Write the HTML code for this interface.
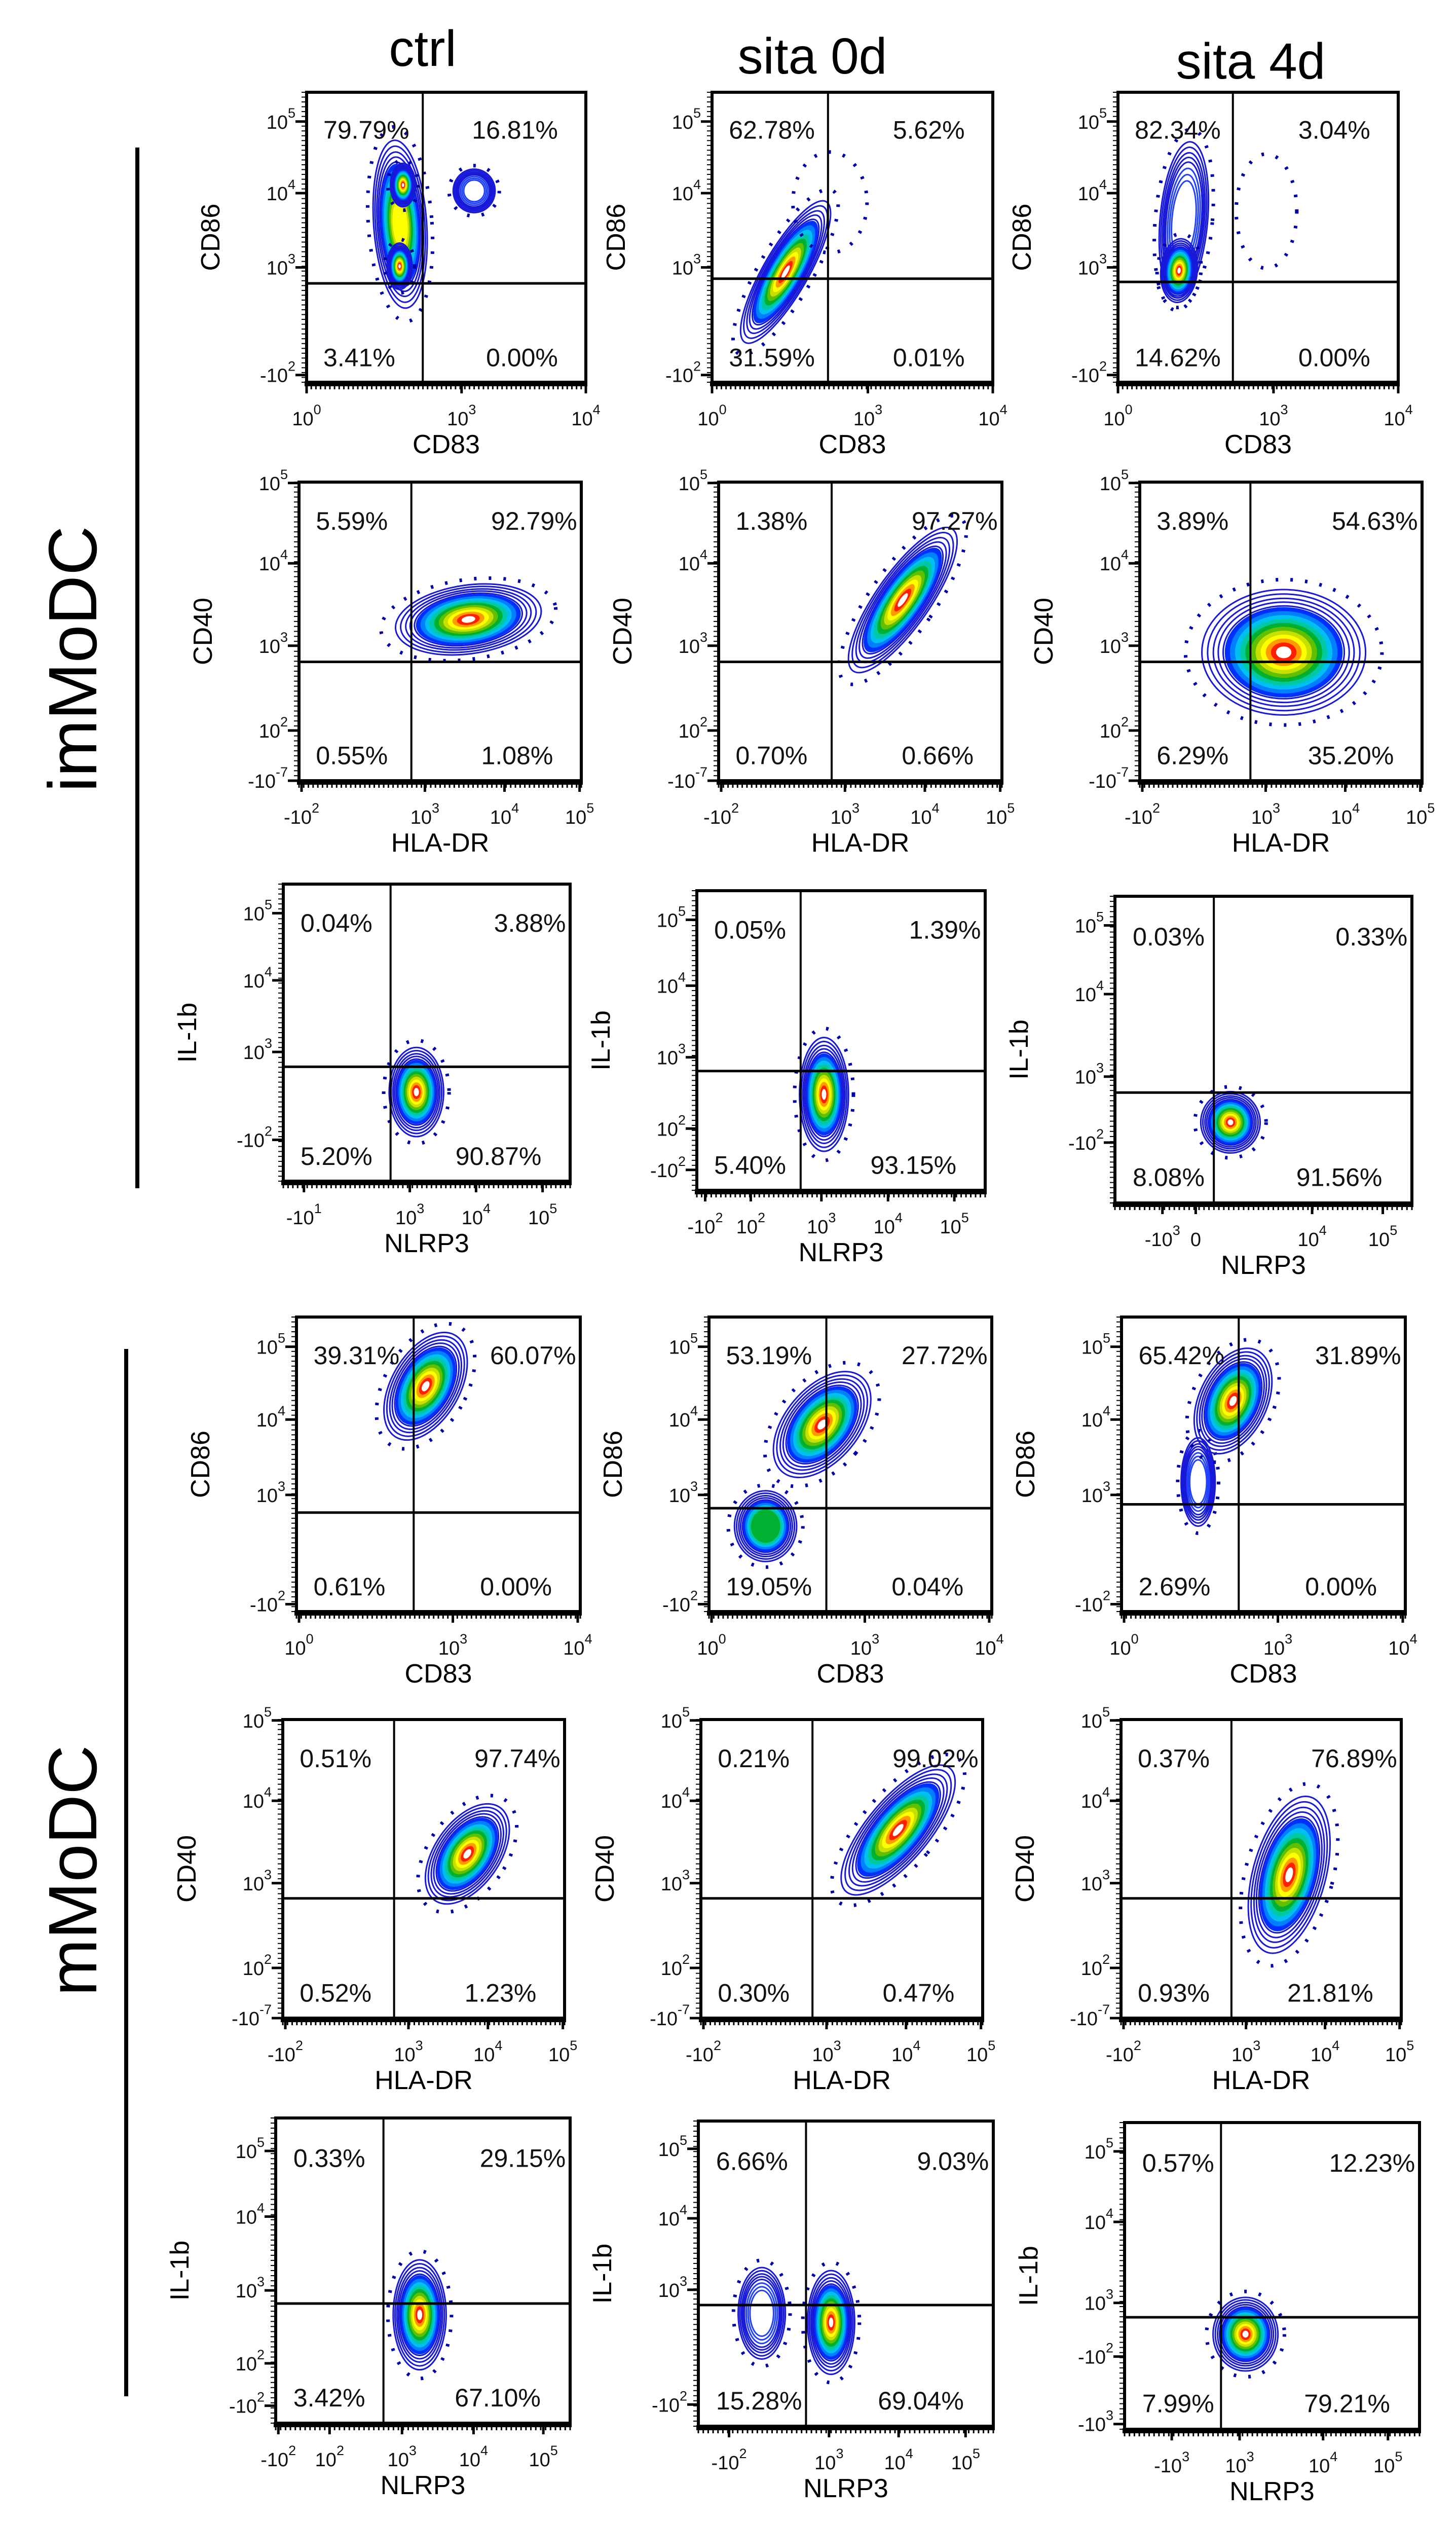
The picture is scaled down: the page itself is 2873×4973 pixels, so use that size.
<!DOCTYPE html>
<html><head><meta charset="utf-8"><style>
html,body{margin:0;padding:0;background:#fff}
svg{display:block;font-family:"Liberation Sans",Arial,sans-serif}
</style></head><body>
<svg id="fig" xmlns="http://www.w3.org/2000/svg" width="2873" height="4973" viewBox="0 0 2873 4973">
<rect x="0" y="0" width="2873" height="4973" fill="#fff"/>
<text x="834" y="130" font-size="100" text-anchor="middle">ctrl</text>
<text x="1603" y="145" font-size="100" text-anchor="middle">sita 0d</text>
<text x="2468" y="155" font-size="100" text-anchor="middle">sita 4d</text>
<line x1="271" y1="291" x2="271" y2="2344" stroke="#000" stroke-width="8"/>
<line x1="249" y1="2661" x2="249" y2="4727" stroke="#000" stroke-width="8"/>
<text x="0" y="0" font-size="135" text-anchor="middle" transform="translate(190,1300) rotate(-90)">imMoDC</text>
<text x="0" y="0" font-size="135" text-anchor="middle" transform="translate(190,3690) rotate(-90)">mMoDC</text>
<g id="panels"></g>
</svg>
<script>
// ---- data ----
const pctUL = ['79.79%','62.78%','82.34%','5.59%','1.38%','3.89%','0.04%','0.05%','0.03%','39.31%','53.19%','65.42%','0.51%','0.21%','0.37%','0.33%','6.66%','0.57%'];
const pctUR = ['16.81%','5.62%','3.04%','92.79%','97.27%','54.63%','3.88%','1.39%','0.33%','60.07%','27.72%','31.89%','97.74%','99.02%','76.89%','29.15%','9.03%','12.23%'];
const pctLL = ['3.41%','31.59%','14.62%','0.55%','0.70%','6.29%','5.20%','5.40%','8.08%','0.61%','19.05%','2.69%','0.52%','0.30%','0.93%','3.42%','15.28%','7.99%'];
const pctLR = ['0.00%','0.01%','0.00%','1.08%','0.66%','35.20%','90.87%','93.15%','91.56%','0.00%','0.04%','0.00%','1.23%','0.47%','21.81%','67.10%','69.04%','79.21%'];
// quadrant gates in channel units (0-1000)
const gateX = [416,413,410,398,399,392,374,360,333,413,415,413,395,396,394,366,365,327];
const gateY = [341,357,346,398,398,398,385,398,360,336,351,364,401,401,401,392,397,365];
// population blobs: [centerX, centerY, spreadX, spreadY, tilt, peakDensity] in channel units
const blobs = [
 [[335,545,95,290,-4,0.75],[345,680,45,75,0,1.0],[333,400,45,80,0,1.0],[600,660,75,75,0,0]],
 [[262,380,80,280,30,1.0],[420,620,110,150,0,-1]],
 [[235,560,85,270,5,0],[218,385,65,110,5,1.0],[530,590,90,170,0,-1]],
 [[600,540,260,115,-8,1.0]],
 [[650,605,95,290,35,1.0]],
 [[510,430,290,210,0,1.0]],
 [[464,300,95,150,0,1.0]],
 [[441,320,85,190,0,1.0]],
 [[389,263,100,100,0,1.0]],
 [[455,765,120,200,30,1.0]],
 [[400,635,130,210,40,1.0],[200,290,110,120,0,0.45]],
 [[270,440,60,150,0,0],[393,715,120,190,25,1.0]],
 [[655,550,115,190,35,1.0]],
 [[700,630,110,270,40,1.0]],
 [[600,480,130,270,15,1.0]],
 [[489,355,90,180,0,1.0]],
 [[215,370,80,150,0,0],[450,340,80,170,0,1.0]],
 [[410,310,110,120,0,1.0]]
];
// axis tick definitions
const tickLabels = {
 cd83a:['10^0','10^3','10^4'], cd83b:['10^0','10^3','10^4'],
 cd86:['-10^2','10^3','10^4','10^5'],
 hla:['-10^2','10^3','10^4','10^5'],
 cd40:['-10^-7','10^2','10^3','10^4','10^5'],
 n1x:['-10^1','10^3','10^4','10^5'], n1y:['-10^2','10^3','10^4','10^5'],
 n2x:['-10^2','10^2','10^3','10^4','10^5'], n2y:['-10^2','10^2','10^3','10^4','10^5'],
 n3x:['-10^3','0','10^4','10^5'], n3y:['-10^2','10^3','10^4','10^5'],
 n4x:['-10^2','10^2','10^3','10^4','10^5'], n4y:['-10^2','10^2','10^3','10^4','10^5'],
 n5x:['-10^2','10^3','10^4','10^5'], n5y:['-10^2','10^3','10^4','10^5'],
 n6x:['-10^3','10^3','10^4','10^5'], n6y:['-10^3','-10^2','10^3','10^4','10^5']
};
const tickCh = {
 cd83a:[0,555,1000], cd83b:[9,551,991],
 cd86:[25,396,652,899],
 hla:[9,446,728,994],
 cd40:[0,168,452,728,997],
 n1x:[72,441,672,904], n1y:[139,435,676,902],
 n2x:[29,187,432,663,893], n2y:[68,206,444,683,903],
 n3x:[160,272,664,902], n3y:[197,412,681,905],
 n4x:[9,183,429,672,909], n4y:[57,196,435,677,892],
 n5x:[104,443,679,906], n5y:[71,447,681,909],
 n6x:[160,390,673,893], n6y:[17,237,412,676,906]
};
const xAxisType = ['cd83a','cd83a','cd83a','hla','hla','hla','n1x','n2x','n3x','cd83b','cd83b','cd83b','hla','hla','hla','n4x','n5x','n6x'];
const yAxisType = ['cd86','cd86','cd86','cd40','cd40','cd40','n1y','n2y','n3y','cd86','cd86','cd86','cd40','cd40','cd40','n4y','n5y','n6y'];
const xTitles = ['CD83','HLA-DR','NLRP3'];
const yTitles = ['CD86','CD40','IL-1b'];

// ---- layout ----
const boxes = [
 [605,182,1156,754],[1405,182,1959,754],[2206,182,2759,754],
 [590,951,1147,1540],[1418,951,1977,1540],[2249,951,2806,1540],
 [559,1744,1125,2330],[1375,1757,1944,2348],[2200,1768,2786,2373],
 [585,2598,1145,3179],[1399,2598,1957,3179],[2213,2598,2773,3179],
 [558,3392,1114,3981],[1383,3392,1939,3981],[2212,3392,2765,3981],
 [544,4178,1125,4780],[1378,4184,1960,4786],[2219,4187,2801,4792]
];
const colors = ['#0030ff','#0080ff','#00c0f0','#00c8a0','#00b030','#60c000','#c8e000','#ffff00','#ff9a00','#ff2000','#ffffff'];
const NS = 'http://www.w3.org/2000/svg';
const root = document.getElementById('panels');
function mk(tag, attrs, parent){
  const e = document.createElementNS(NS, tag);
  for (const k in attrs) e.setAttribute(k, attrs[k]);
  if (parent) parent.appendChild(e);
  return e;
}
function tickText(parent, label, x, y, anchor){
  const t = mk('text', {x:x, y:y, 'font-size':38, 'text-anchor':anchor, fill:'#111'}, parent);
  const m = label.match(/^(-?10)\^(-?\d+)$/);
  if (m){
    t.appendChild(document.createTextNode(m[1]));
    const s = mk('tspan', {dy:-22, 'font-size':27}, t);
    s.textContent = m[2];
  } else {
    t.textContent = label;
  }
  return t;
}
for (let i = 0; i < 18; i++){
  const [x0,y0,x1,y1] = boxes[i];
  const w = x1-x0, h = y1-y0;
  const X = ch => x0 + ch/1000*w;
  const Y = ch => y1 - ch/1000*h;
  const row = Math.floor(i/3);
  const g = mk('g', {}, root);
  
  
  const clipId = 'clip' + i;
  const cp = mk('clipPath', {id:clipId}, g);
  mk('rect', {x:x0, y:y0, width:w, height:h}, cp);
  const plot = mk('g', {'clip-path':'url(#'+clipId+')'}, g);
  blobs[i].forEach((b, j) => {
    const bg = mk('g', {transform:'translate('+X(b[0])+','+Y(b[1])+') rotate('+b[4]+')'}, plot);
    
    
    const rx = b[2]/1000*w, ry = b[3]/1000*h;
    mk('ellipse', {cx:0, cy:0, rx:rx*1.2, ry:ry*1.16, fill:'none', stroke:'#0000a8', 'stroke-width':7, 'stroke-dasharray':'5 24'}, bg);
    if (b[5] < 0) return;
    [1.0,0.93,0.86,0.8,0.74].forEach(s => {
      mk('ellipse', {cx:0, cy:0, rx:rx*s, ry:ry*s, fill:'none', stroke:'#1818d8', 'stroke-width':3}, bg);
    });
    if (b[5] <= 0.15) {
      [0.66,0.58,0.5].forEach(s => {
        mk('ellipse', {cx:0, cy:0, rx:rx*s, ry:ry*s, fill:'none', stroke:'#2040ff', 'stroke-width':3}, bg);
      });
      return;
    }
    const n = Math.round(b[5]*11);
    for (let k = 0; k < n; k++){
      const s = 0.72*(1 - k/11.5);
      mk('ellipse', {cx:0, cy:0, rx:rx*s, ry:ry*s, fill:colors[k]}, bg);
    }
  });
  const gv = mk('line', {x1:X(gateX[i]), y1:y0, x2:X(gateX[i]), y2:y1, stroke:'#000', 'stroke-width':4}, g);
  
  
  const gh = mk('line', {x1:x0, y1:Y(gateY[i]), x2:x1, y2:Y(gateY[i]), stroke:'#000', 'stroke-width':5}, g);
  
  
  const fr = mk('rect', {x:x0, y:y0, width:w, height:h, fill:'none', stroke:'#000', 'stroke-width':6}, g);
  
  
  mk('line', {x1:x0-4, y1:y1+3, x2:x1+3, y2:y1+3, stroke:'#000', 'stroke-width':10}, g);
  for (let k = 0; k <= 60; k++){
    mk('line', {x1:x0+k*w/60, y1:y1, x2:x0+k*w/60, y2:y1+14, stroke:'#000', 'stroke-width':3}, g);
    mk('line', {x1:x0, y1:y0+k*h/60, x2:x0-10, y2:y0+k*h/60, stroke:'#000', 'stroke-width':2}, g);
  }
  const xt = xAxisType[i], yt = yAxisType[i];
  tickCh[xt].forEach((c, k) => {
    mk('line', {x1:X(c), y1:y1, x2:X(c), y2:y1+22, stroke:'#000', 'stroke-width':5}, g);
    const t = tickText(g, tickLabels[xt][k], X(c), y1+85, 'middle');
    
    
  });
  tickCh[yt].forEach((c, k) => {
    mk('line', {x1:x0, y1:Y(c), x2:x0-22, y2:Y(c), stroke:'#000', 'stroke-width':5}, g);
    const t = tickText(g, tickLabels[yt][k], x0-22, Y(c)+14, 'end');
    
    
  });
  const xtl = mk('text', {x:(x0+x1)/2, y:y1+140, 'font-size':52, 'text-anchor':'middle', fill:'#000'}, g);
  xtl.textContent = xTitles[row % 3];
  
  
  const ytl = mk('text', {x:0, y:0, 'font-size':52, 'text-anchor':'middle', fill:'#000', transform:'translate('+(x0-172)+','+((y0+y1)/2)+') rotate(-90)'}, g);
  ytl.textContent = yTitles[row % 3];
  
  
  const topY = y0 + 0.16*h, botY = y0 + 0.945*h;
  const urInset = (row === 0) ? 0.1 : 0.015;
  const q = [
    [pctUL[i], x0+0.06*w, topY, 'start', 'quadrant-upper-left'],
    [pctUR[i], x1-urInset*w, topY, 'end', 'quadrant-upper-right'],
    [pctLL[i], x0+0.06*w, botY, 'start', 'quadrant-lower-left'],
    [pctLR[i], x1-0.1*w, botY, 'end', 'quadrant-lower-right']
  ];
  q.forEach(d => {
    const t = mk('text', {x:d[1], y:d[2], 'font-size':50, 'text-anchor':d[3], fill:'#111'}, g);
    t.textContent = d[0];
    
    
  });
}
</script>
</body></html>
